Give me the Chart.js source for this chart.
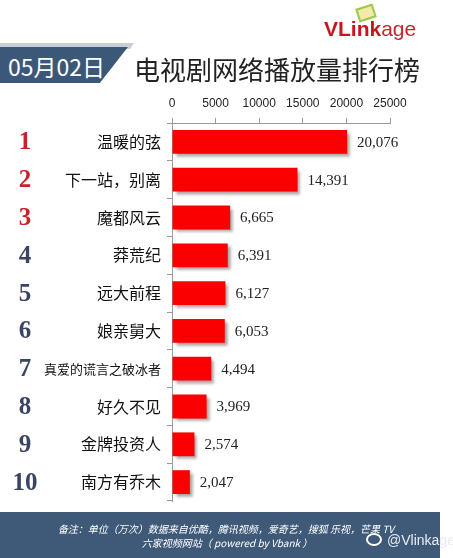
<!DOCTYPE html>
<html>
<head>
<meta charset="utf-8">
<script src="https://cdn.jsdelivr.net/npm/chart.js@4"></script>
<style>
  html, body { margin: 0; padding: 0; background: #fff; }
  #wrap { position: relative; width: 453px; height: 558px; overflow: hidden; background: #fff; }
  #chart { position: absolute; left: 0; top: 0; }
  .logo { position: absolute; left: 324px; top: 17px; font: 21px "Liberation Sans", Arial, sans-serif; color: #c0282d; letter-spacing: 0; }
  .logo b { font-weight: bold; color: #c8161e; }
  .logo-icon { position: absolute; left: 357px; top: 6px; width: 14px; height: 10px; border: 2px solid #9bc94a; background: #f3e9a8; transform: rotate(-18deg); }
  .band-shadow { position: absolute; left: 0; top: 43px; width: 134px; height: 6px; background: #c9cdd6; clip-path: polygon(0 0, 100% 0, 97% 100%, 0 100%); }
  .band { position: absolute; left: 0; top: 47px; width: 128px; height: 36px; background: #3c5878; clip-path: polygon(0 0, 100% 0, 78% 100%, 0 100%); }
  .band span { position: absolute; left: 8px; top: 2px; color: #fff; font: 23px "Noto Sans CJK SC", sans-serif; }
  .title { position: absolute; left: 134px; top: 50px; font: 26px "Noto Sans CJK SC", sans-serif; color: #222; white-space: nowrap; }
  .foot { position: absolute; left: 0; top: 512px; width: 440px; height: 46px; background: #3e5a78; }
  .foot p { margin: 0; position: absolute; width: 100%; text-align: center; color: #fff; font: italic 10px "Noto Sans CJK SC", sans-serif; white-space: nowrap; }
  .weibo { position: absolute; left: 387px; top: 532px; color: #e8ecf2; font: 14px "Liberation Sans", sans-serif; }
  .weibo i { position: absolute; left: -21px; top: 1px; width: 16px; height: 13px; border-radius: 50%; border: 2px solid #fff; box-sizing: border-box; }
</style>
</head>
<body>
<div id="wrap">
  <canvas id="chart" width="453" height="558"></canvas>
  <div class="logo-icon"></div>
  <div class="logo"><b>VLink</b>age</div>
  <div class="band-shadow"></div>
  <div class="band"><span>05月02日</span></div>
  <div class="title">电视剧网络播放量排行榜</div>
  <div class="foot">
    <p style="top:9px;left:6px">备注：单位（万次）数据来自优酷，腾讯视频，爱奇艺，搜狐 乐视，芒果 TV</p>
    <p style="top:23px;left:7px">六家视频网站（ powered by Vbank ）</p>
  </div>
  <div class="weibo"><i></i>@Vlinkage</div>
</div>
<script>
// Ranking data
const ranks = ['1', '2', '3', '4', '5', '6', '7', '8', '9', '10'];
const names = ['温暖的弦', '下一站，别离', '魔都风云', '莽荒纪', '远大前程', '娘亲舅大', '真爱的谎言之破冰者', '好久不见', '金牌投资人', '南方有乔木'];
const views = [20076, 14391, 6665, 6391, 6127, 6053, 4494, 3969, 2574, 2047];
const xTicks = [0, 5000, 10000, 15000, 20000, 25000];

// Bar shadow
const shadowPlugin = {
    id: 'barShadow',
    beforeDatasetDraw(chart) {
        const ctx = chart.ctx;
        ctx.save();
        ctx.shadowColor = 'rgba(60, 30, 30, 0.45)';
        ctx.shadowOffsetX = 3;
        ctx.shadowOffsetY = 3;
        ctx.shadowBlur = 3;
    },
    afterDatasetDraw(chart) {
        chart.ctx.restore();
    }
};

// Values at the end of bars and rank numbers on the left
const labelsPlugin = {
    id: 'rankLabels',
    afterDatasetsDraw(chart) {
        const ctx = chart.ctx;
        const meta = chart.getDatasetMeta(0);
        const yScale = chart.scales.y;
        ctx.save();
        ctx.textBaseline = 'middle';
        ctx.font = '15px "Liberation Serif", serif';
        ctx.fillStyle = '#222';
        ctx.textAlign = 'left';
        meta.data.forEach((bar, i) => {
            ctx.fillText(views[i].toLocaleString('en-US'), bar.x + 10, bar.y + 1);
        });
        ctx.font = 'bold 25px "Liberation Serif", serif';
        ctx.textAlign = 'center';
        ranks.forEach((r, i) => {
            ctx.fillStyle = i < 3 ? '#c4242b' : '#3a4463';
            ctx.fillText(r, 25, yScale.getPixelForValue(i) + 1);
        });
        ctx.restore();
    }
};

new Chart(document.getElementById('chart'), {
    type: 'bar',
    data: {
        labels: names,
        datasets: [{
            data: views,
            backgroundColor: '#fb0000',
            borderWidth: 0,
            barPercentage: 0.63,
            categoryPercentage: 1
        }]
    },
    options: {
        indexAxis: 'y',
        responsive: false,
        animation: false,
        layout: { padding: { left: 0, right: 63, top: 0, bottom: 57 } },
        plugins: {
            legend: { display: false },
            tooltip: { enabled: false }
        },
        scales: {
            x: {
                position: 'top',
                min: 0,
                max: 25000,
                afterFit: (scale) => { scale.height = 123; },
                afterBuildTicks: (scale) => { scale.ticks = xTicks.map(v => ({ value: v })); },
                border: { display: true, color: '#9a9a9a' },
                grid: { drawOnChartArea: false, drawTicks: true, tickLength: 5, color: '#9a9a9a' },
                ticks: {
                    color: '#222',
                    padding: 7,
                    font: { family: '"Liberation Sans", sans-serif', size: 12 },
                    callback: (v) => String(v)
                }
            },
            y: {
                afterFit: (scale) => { scale.width = 172; },
                border: { display: true, color: '#9a9a9a' },
                grid: { offset: true, drawOnChartArea: false, drawTicks: true, tickLength: 5, color: '#9a9a9a' },
                ticks: {
                    color: '#111',
                    padding: 6,
                    font: (c) => ({ family: '"Noto Sans CJK SC", sans-serif', size: c.index === 6 ? 13 : 16 })
                }
            }
        }
    },
    plugins: [shadowPlugin, labelsPlugin]
});
</script>
</body>
</html>
